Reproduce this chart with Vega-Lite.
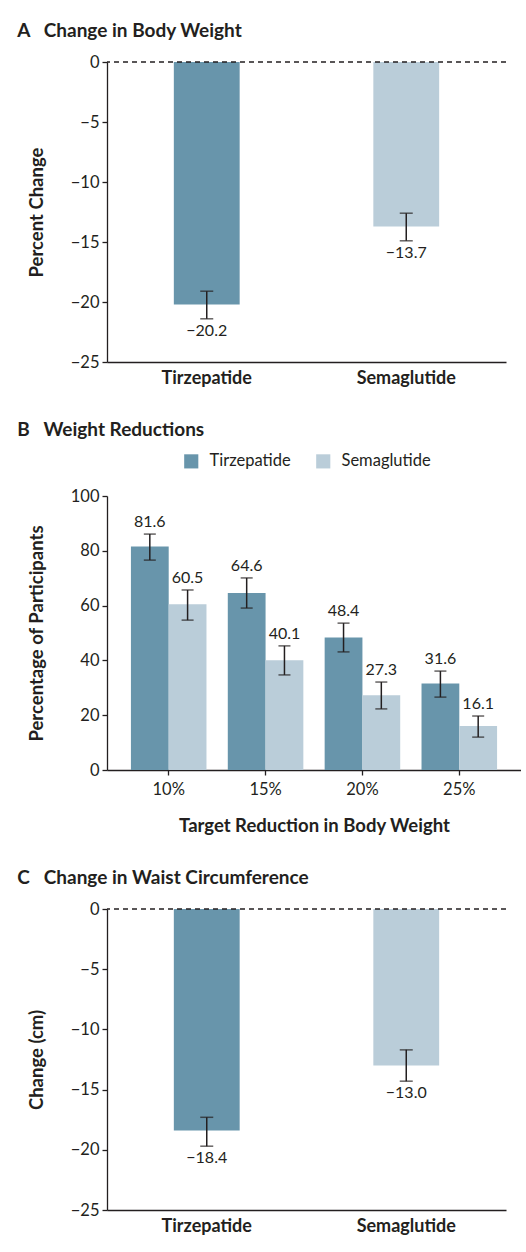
{
  "$schema": "https://vega.github.io/schema/vega-lite/v6.json",
  "padding": {"left": 17, "top": 22, "right": 0, "bottom": 20},
  "spacing": 34,
  "background": "white",
  "resolve": {"scale": {"color": "independent"}, "legend": {"color": "independent"}},
  "config": {
    "font": "Lato",
    "view": {"stroke": null},
    "axis": {
      "domainColor": "#231f20", "tickColor": "#231f20", "labelColor": "#231f20", "titleColor": "#231f20",
      "labelFontSize": 16.5, "titleFontSize": 18.5, "titleFontWeight": "bold",
      "grid": false, "tickSize": 5, "domainWidth": 1.3, "tickWidth": 1.3, "labelPadding": 3
    },
    "title": {"anchor": "start", "fontSize": 19, "fontWeight": "bold", "color": "#231f20", "frame": "bounds", "offset": 13}
  },
  "datasets": {
    "weight": [
      {"drug": "Tirzepatide", "change": -20.2, "lower": -21.4, "upper": -19.1},
      {"drug": "Semaglutide", "change": -13.7, "lower": -14.9, "upper": -12.6}
    ],
    "reductions": [
      {"target": "10%", "drug": "Tirzepatide", "pct": 81.6, "lower": 76.6, "upper": 86.1},
      {"target": "10%", "drug": "Semaglutide", "pct": 60.5, "lower": 54.7, "upper": 65.7},
      {"target": "15%", "drug": "Tirzepatide", "pct": 64.6, "lower": 59.1, "upper": 70.1},
      {"target": "15%", "drug": "Semaglutide", "pct": 40.1, "lower": 34.7, "upper": 45.3},
      {"target": "20%", "drug": "Tirzepatide", "pct": 48.4, "lower": 43.1, "upper": 53.6},
      {"target": "20%", "drug": "Semaglutide", "pct": 27.3, "lower": 22.3, "upper": 32.1},
      {"target": "25%", "drug": "Tirzepatide", "pct": 31.6, "lower": 26.6, "upper": 36.1},
      {"target": "25%", "drug": "Semaglutide", "pct": 16.1, "lower": 12.0, "upper": 19.7}
    ],
    "waist": [
      {"drug": "Tirzepatide", "change": -18.4, "lower": -19.7, "upper": -17.3},
      {"drug": "Semaglutide", "change": -13.0, "lower": -14.3, "upper": -11.7}
    ]
  },
  "vconcat": [
    {
      "title": {"text": "A\u00a0\u00a0\u00a0Change in Body Weight", "dx": -10},
      "width": 399, "height": 300,
      "data": {"name": "weight"},
      "layer": [
        {
          "mark": {"type": "bar"},
          "encoding": {
            "x": {"field": "drug", "type": "nominal", "sort": ["Tirzepatide", "Semaglutide"],
                  "scale": {"paddingInner": 0.67, "paddingOuter": 0.335},
                  "axis": {"title": null, "labelAngle": 0, "ticks": false, "labelFontWeight": "bold", "labelFontSize": 18, "labelPadding": 7}},
            "y": {"field": "change", "type": "quantitative", "scale": {"domain": [-25, 0], "nice": false},
                  "axis": {"title": "Percent Change", "values": [0, -5, -10, -15, -20, -25], "titlePadding": 24}},
            "color": {"field": "drug", "type": "nominal", "scale": {"domain": ["Tirzepatide", "Semaglutide"], "range": ["#6895ab", "#bacdd9"]}, "legend": null}
          }
        },
        {
          "mark": {"type": "rule", "strokeDash": [5, 4], "color": "#231f20", "strokeWidth": 1.2},
          "encoding": {"y": {"datum": 0}}
        },
        {
          "mark": {"type": "rule", "color": "#231f20", "strokeWidth": 1.5},
          "encoding": {
            "x": {"field": "drug", "type": "nominal", "sort": ["Tirzepatide", "Semaglutide"]},
            "y": {"field": "lower", "type": "quantitative"},
            "y2": {"field": "upper"}
          }
        },
        {
          "mark": {"type": "tick", "color": "#231f20", "size": 13, "thickness": 1.5},
          "encoding": {
            "x": {"field": "drug", "type": "nominal", "sort": ["Tirzepatide", "Semaglutide"]},
            "y": {"field": "lower", "type": "quantitative"}
          }
        },
        {
          "mark": {"type": "tick", "color": "#231f20", "size": 13, "thickness": 1.5},
          "encoding": {
            "x": {"field": "drug", "type": "nominal", "sort": ["Tirzepatide", "Semaglutide"]},
            "y": {"field": "upper", "type": "quantitative"}
          }
        },
        {
          "mark": {"type": "text", "baseline": "top", "dy": 4, "fontSize": 16, "color": "#231f20"},
          "encoding": {
            "x": {"field": "drug", "type": "nominal", "sort": ["Tirzepatide", "Semaglutide"]},
            "y": {"field": "lower", "type": "quantitative"},
            "text": {"field": "change", "type": "quantitative", "format": ".1f"}
          }
        }
      ]
    },
    {
      "title": {"text": "B\u00a0\u00a0\u00a0Weight Reductions", "dx": -10},
      "width": 414, "height": 274,
      "data": {"name": "reductions"},
      "encoding": {
        "x": {"field": "target", "type": "nominal", "sort": ["10%", "15%", "20%", "25%"],
              "scale": {"paddingInner": 0.22, "paddingOuter": 0.247},
              "axis": {"title": "Target Reduction in Body Weight", "labelAngle": 0, "labelPadding": 6, "titlePadding": 19}},
        "xOffset": {"field": "drug", "type": "nominal", "sort": ["Tirzepatide", "Semaglutide"], "scale": {"paddingInner": 0, "paddingOuter": 0}}
      },
      "layer": [
        {
          "mark": {"type": "bar"},
          "encoding": {
            "y": {"field": "pct", "type": "quantitative", "scale": {"domain": [0, 100], "nice": false},
                  "axis": {"title": "Percentage of Participants", "values": [0, 20, 40, 60, 80, 100], "titlePadding": 24}},
            "color": {"field": "drug", "type": "nominal", "sort": ["Tirzepatide", "Semaglutide"],
                      "scale": {"domain": ["Tirzepatide", "Semaglutide"], "range": ["#6895ab", "#bacdd9"]},
                      "legend": {"title": null, "orient": "none", "legendX": 76, "legendY": -43, "direction": "horizontal",
                                 "symbolType": "square", "symbolSize": 200, "symbolStrokeWidth": 0, "symbolOpacity": 1, "labelFontSize": 16.5, "labelColor": "#231f20",
                                 "columnPadding": 24, "labelOffset": 10}}
          }
        },
        {
          "mark": {"type": "rule", "color": "#231f20", "strokeWidth": 1.5},
          "encoding": {
            "y": {"field": "lower", "type": "quantitative"},
            "y2": {"field": "upper"}
          }
        },
        {
          "mark": {"type": "tick", "color": "#231f20", "size": 12, "thickness": 1.5},
          "encoding": {"y": {"field": "lower", "type": "quantitative"}}
        },
        {
          "mark": {"type": "tick", "color": "#231f20", "size": 12, "thickness": 1.5},
          "encoding": {"y": {"field": "upper", "type": "quantitative"}}
        },
        {
          "mark": {"type": "text", "baseline": "bottom", "dy": -4, "fontSize": 16, "color": "#231f20"},
          "encoding": {
            "y": {"field": "upper", "type": "quantitative"},
            "text": {"field": "pct", "type": "quantitative", "format": ".1f"}
          }
        }
      ]
    },
    {
      "title": {"text": "C\u00a0\u00a0\u00a0Change in Waist Circumference", "dx": -10},
      "width": 399, "height": 301,
      "data": {"name": "waist"},
      "layer": [
        {
          "mark": {"type": "bar"},
          "encoding": {
            "x": {"field": "drug", "type": "nominal", "sort": ["Tirzepatide", "Semaglutide"],
                  "scale": {"paddingInner": 0.67, "paddingOuter": 0.335},
                  "axis": {"title": null, "labelAngle": 0, "ticks": false, "labelFontWeight": "bold", "labelFontSize": 18, "labelPadding": 7}},
            "y": {"field": "change", "type": "quantitative", "scale": {"domain": [-25, 0], "nice": false},
                  "axis": {"title": "Change (cm)", "values": [0, -5, -10, -15, -20, -25], "titlePadding": 24}},
            "color": {"field": "drug", "type": "nominal", "scale": {"domain": ["Tirzepatide", "Semaglutide"], "range": ["#6895ab", "#bacdd9"]}, "legend": null}
          }
        },
        {
          "mark": {"type": "rule", "strokeDash": [5, 4], "color": "#231f20", "strokeWidth": 1.2},
          "encoding": {"y": {"datum": 0}}
        },
        {
          "mark": {"type": "rule", "color": "#231f20", "strokeWidth": 1.5},
          "encoding": {
            "x": {"field": "drug", "type": "nominal", "sort": ["Tirzepatide", "Semaglutide"]},
            "y": {"field": "lower", "type": "quantitative"},
            "y2": {"field": "upper"}
          }
        },
        {
          "mark": {"type": "tick", "color": "#231f20", "size": 13, "thickness": 1.5},
          "encoding": {
            "x": {"field": "drug", "type": "nominal", "sort": ["Tirzepatide", "Semaglutide"]},
            "y": {"field": "lower", "type": "quantitative"}
          }
        },
        {
          "mark": {"type": "tick", "color": "#231f20", "size": 13, "thickness": 1.5},
          "encoding": {
            "x": {"field": "drug", "type": "nominal", "sort": ["Tirzepatide", "Semaglutide"]},
            "y": {"field": "upper", "type": "quantitative"}
          }
        },
        {
          "mark": {"type": "text", "baseline": "top", "dy": 4, "fontSize": 16, "color": "#231f20"},
          "encoding": {
            "x": {"field": "drug", "type": "nominal", "sort": ["Tirzepatide", "Semaglutide"]},
            "y": {"field": "lower", "type": "quantitative"},
            "text": {"field": "change", "type": "quantitative", "format": ".1f"}
          }
        }
      ]
    }
  ]
}
